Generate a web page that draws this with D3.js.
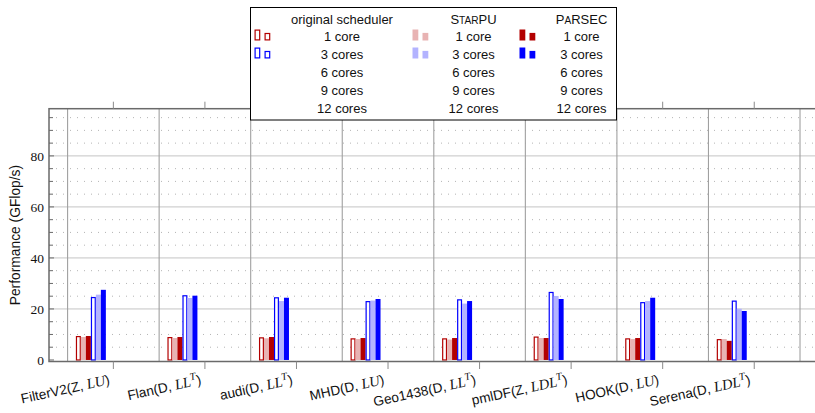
<!DOCTYPE html>
<html>
<head>
<meta charset="utf-8">
<script src="https://cdn.jsdelivr.net/npm/d3@7"></script>
<style>
  html, body { margin: 0; padding: 0; background: #fff; }
  svg { display: block; }
</style>
</head>
<body>
<svg id="chart" width="815" height="413"></svg>
<script>
// Matrices (name, arithmetic, factorization)
const matrixNames = ["FilterV2", "Flan", "audi", "MHD", "Geo1438", "pmlDF", "HOOK", "Serena"];
const arithmetics = ["Z", "D", "D", "D", "D", "Z", "D", "D"];
const factorizations = ["LU", "LL^T", "LL^T", "LU", "LL^T", "LDL^T", "LU", "LDL^T"];

// Schedulers and core counts shown in the legend
const schedulers = ["original scheduler", "StarPU", "PaRSEC"];
const coreCounts = ["1 core", "3 cores", "6 cores", "9 cores", "12 cores"];

// Performance in GFlop/s, one array per (cores, scheduler)
const original1 = [9.4, 9.0, 8.9, 8.5, 8.5, 9.2, 8.5, 8.2];
const starpu1   = [9.0, 8.6, 8.5, 8.2, 8.0, 8.6, 8.2, 8.2];
const parsec1   = [9.4, 9.0, 9.0, 8.6, 8.6, 8.6, 8.6, 7.5];
const original3 = [24.7, 25.4, 24.6, 23.1, 23.8, 26.7, 22.7, 23.3];
const starpu3   = [25.6, 24.3, 23.1, 23.3, 22.1, 25.1, 23.1, 20.1];
const parsec3   = [27.5, 25.2, 24.4, 23.9, 23.1, 23.9, 24.4, 19.2];
// no runs recorded for 6, 9 and 12 cores
const original6 = [], starpu6 = [], parsec6 = [];
const original9 = [], starpu9 = [], parsec9 = [];
const original12 = [], starpu12 = [], parsec12 = [];

const yTicks = [0, 20, 40, 60, 80];

// Series in bar order: cores-major, scheduler-minor
const seriesValues = [
  original1, starpu1, parsec1,
  original3, starpu3, parsec3,
  original6, starpu6, parsec6,
  original9, starpu9, parsec9,
  original12, starpu12, parsec12
];

const darkRed = "#b30000", lightRed = "#e8b3b3";
const blue = "#0000ff", lightBlue = "#b3b3ff";
// style per (coreIndex, schedulerIndex); only 1 and 3 cores are styled
const styles = [
  [{fill: "#fff", stroke: darkRed}, {fill: lightRed, stroke: "none"}, {fill: darkRed, stroke: "none"}],
  [{fill: "#fff", stroke: blue}, {fill: lightBlue, stroke: "none"}, {fill: blue, stroke: "none"}],
  [null, null, null], [null, null, null], [null, null, null]
];

(function draw() {
  const svg = d3.select("#chart");
  svg.append("rect").attr("width", 815).attr("height", 413).attr("fill", "#fff");

  const pL = 49, pR = 818.6, pT = 108.7, pB = 361.5;
  const x = d3.scaleLinear().domain([-0.703, matrixNames.length - 1 + 0.703]).range([pL, pR]);
  const y = d3.scaleLinear().domain([-0.6, 98.5]).range([pB, pT]);

  const plot = svg.append("g");

  // minor dotted grid every 5
  const minor = d3.range(5, 98.5, 5).filter(v => v % 20 !== 0);
  plot.selectAll("line.minor").data(minor).join("line")
    .attr("x1", pL).attr("x2", pR)
    .attr("y1", d => y(d)).attr("y2", d => y(d))
    .attr("stroke", "#b4b4b4").attr("stroke-width", 1)
    .attr("stroke-dasharray", "1,6");

  // major horizontal grid
  plot.selectAll("line.major").data(yTicks.filter(v => v > 0)).join("line")
    .attr("x1", pL).attr("x2", pR)
    .attr("y1", d => y(d)).attr("y2", d => y(d))
    .attr("stroke", "#c4c4c4").attr("stroke-width", 1);

  // vertical separators between matrices
  const seps = d3.range(-0.5, matrixNames.length, 1);
  plot.selectAll("line.vsep").data(seps).join("line")
    .attr("x1", d => x(d)).attr("x2", d => x(d))
    .attr("y1", pT).attr("y2", pB)
    .attr("stroke", "#a0a0a0").attr("stroke-width", 1.1);

  // bars
  const band = x(1) - x(0);
  const barW = band * 5 / 91.57;
  const nSlots = seriesValues.length;
  seriesValues.forEach((vals, s) => {
    const core = Math.floor(s / 3), sch = s % 3;
    const st = styles[core][sch];
    if (!st) return;
    const off = (s - (nSlots - 1) / 2) * barW;
    vals.forEach((v, i) => {
      const cx = x(i) + off;
      const outlined = st.stroke !== "none";
      const inset = outlined ? 0.6 : 0;
      plot.append("rect")
        .attr("x", cx - barW / 2 + inset)
        .attr("y", y(v) + inset)
        .attr("width", barW - 2 * inset)
        .attr("height", y(0) - y(v) - inset)
        .attr("fill", st.fill)
        .attr("stroke", st.stroke)
        .attr("stroke-width", outlined ? 1.2 : 0);
    });
  });

  // frame
  plot.append("rect")
    .attr("x", pL).attr("y", pT)
    .attr("width", pR - pL).attr("height", pB - pT)
    .attr("fill", "none").attr("stroke", "#6a6a6a").attr("stroke-width", 1.5);

  // y ticks (inside) major + minor
  const allY = d3.range(0, 98.5, 5);
  plot.selectAll("line.ytick").data(allY).join("line")
    .attr("x1", pL).attr("x2", d => pL + (d % 20 === 0 ? 5 : 4))
    .attr("y1", d => y(d)).attr("y2", d => y(d))
    .attr("stroke", "#6a6a6a").attr("stroke-width", 1);

  // x ticks outside, top and bottom
  const idx = d3.range(matrixNames.length);
  plot.selectAll("line.xtop").data(idx).join("line")
    .attr("x1", d => x(d)).attr("x2", d => x(d))
    .attr("y1", pT - 7).attr("y2", pT)
    .attr("stroke", "#8a8a8a").attr("stroke-width", 1);
  plot.selectAll("line.xbot").data(idx).join("line")
    .attr("x1", d => x(d)).attr("x2", d => x(d))
    .attr("y1", pB).attr("y2", pB + 7.5)
    .attr("stroke", "#8a8a8a").attr("stroke-width", 1);

  // y tick labels
  svg.selectAll("text.ylab").data(yTicks).join("text")
    .attr("x", 44).attr("y", d => y(d))
    .attr("dy", "0.35em")
    .attr("text-anchor", "end")
    .attr("font-family", "'Liberation Serif', serif")
    .attr("font-size", 13.5)
    .attr("fill", "#111")
    .text(d => d);

  // y axis title
  svg.append("text")
    .attr("transform", "translate(20," + ((pT + pB) / 2) + ") rotate(-90)")
    .attr("text-anchor", "middle")
    .attr("font-family", "'Liberation Sans', Arial, sans-serif")
    .attr("font-size", 13.8)
    .attr("fill", "#111")
    .text("Performance (GFlop/s)");

  // x labels: "Name(A, F)" with the factorization in math italic
  idx.forEach(i => {
    const t = svg.append("text")
      .attr("transform", "translate(" + (x(i) - 3) + ",384) rotate(-12.5)")
      .attr("text-anchor", "end")
      .attr("font-family", "'Liberation Sans', Arial, sans-serif")
      .attr("font-size", 13.6)
      .attr("fill", "#111");
    t.append("tspan").text(matrixNames[i] + "(" + arithmetics[i] + ", ");
    const parts = factorizations[i].split("^");
    t.append("tspan")
      .attr("font-family", "'Liberation Serif', serif")
      .attr("font-style", "italic").attr("font-size", 14.6)
      .text(parts[0]);
    if (parts[1]) {
      t.append("tspan")
        .attr("font-family", "'Liberation Serif', serif")
        .attr("font-style", "italic").attr("font-size", 10.5)
        .attr("dy", -6).text(parts[1]);
      t.append("tspan").attr("dy", 6).text(")");
    } else {
      t.append("tspan").text(")");
    }
  });

  // legend
  const lg = svg.append("g");
  lg.append("rect")
    .attr("x", 250.5).attr("y", 7.5).attr("width", 366).attr("height", 112.5)
    .attr("fill", "#fff").attr("stroke", "#000").attr("stroke-width", 1);

  const colText = [342, 473.5, 581.5];
  const colIcon = [254.5, 412.5, 519.5];
  const headerY = 19, rowY0 = 36.5, rowStep = 18;
  const font = "'Liberation Sans', Arial, sans-serif";

  // headers, with small caps for the runtime names
  function smallCaps(sel, word, size) {
    for (const ch of word) {
      const isLower = ch !== ch.toUpperCase();
      sel.append("tspan")
        .attr("font-size", isLower ? size * 0.78 : size)
        .text(ch.toUpperCase());
    }
  }
  schedulers.forEach((name, c) => {
    const t = lg.append("text")
      .attr("x", colText[c]).attr("y", headerY).attr("dy", "0.35em")
      .attr("text-anchor", "middle")
      .attr("font-family", font).attr("font-size", 13).attr("fill", "#111");
    if (c === 0) t.text(name);
    else smallCaps(t, name, 13);
  });

  coreCounts.forEach((label, r) => {
    schedulers.forEach((_, c) => {
      lg.append("text")
        .attr("x", colText[c]).attr("y", rowY0 + r * rowStep).attr("dy", "0.35em")
        .attr("text-anchor", "middle")
        .attr("font-family", font).attr("font-size", 13).attr("fill", "#111")
        .text(label);
      const st = styles[r][c];
      if (!st) return;
      const base = rowY0 + r * rowStep + 4;
      const outlined = st.stroke !== "none";
      [[0, 11], [10, 7.6]].forEach(([dx, h]) => {
        lg.append("rect")
          .attr("x", colIcon[c] + dx + (outlined ? 0.6 : 0))
          .attr("y", base - h + (outlined ? 0.6 : 0))
          .attr("width", outlined ? 4.6 : 5.8)
          .attr("height", h - (outlined ? 1.2 : 0))
          .attr("fill", st.fill)
          .attr("stroke", st.stroke)
          .attr("stroke-width", outlined ? 1.2 : 0);
      });
    });
  });
})();
</script>
</body>
</html>
